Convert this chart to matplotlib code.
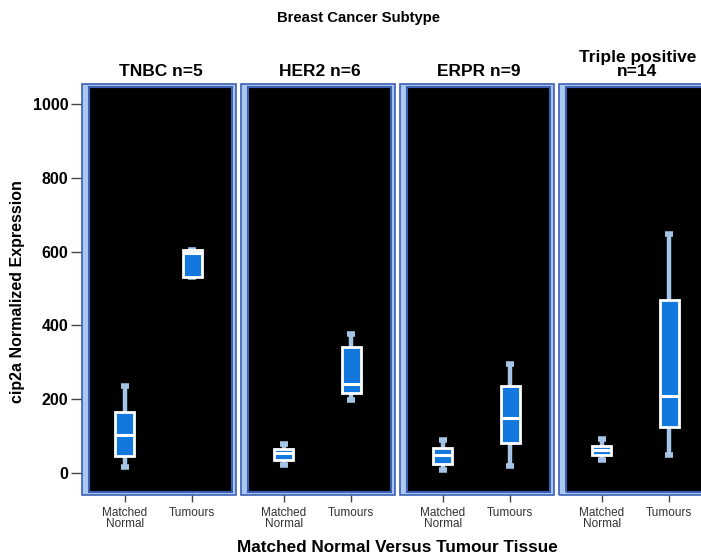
import matplotlib.pyplot as plt
from matplotlib.patches import Rectangle

# five-number summaries per subtype: (matched normal, tumours)
subtypes = ["TNBC n=5", "HER2 n=6", "ERPR n=9", "Triple positive\nn=14"]
groups = ["Matched\nNormal", "Tumours"]
whis_lo = [[15, 532], [22, 198], [8, 18], [35, 48]]
q1 = [[45, 532], [35, 217], [25, 80], [50, 125]]
median = [[103, 595], [55, 240], [50, 150], [62, 210]]
q3 = [[165, 605], [65, 342], [68, 235], [72, 468]]
whis_hi = [[236, 605], [78, 378], [90, 295], [92, 648]]

W, H = 701, 559
BOX_BLUE = "#1278dd"
WHISK = "#a6c4e6"
FRAME_DARK = "#3d5fb3"
FRAME_LIGHT = "#a9c9f0"

plt.rcParams["font.family"] = ["Liberation Sans", "DejaVu Sans"]

fig = plt.figure(figsize=(W / 100, H / 100), dpi=100)
fig.patch.set_facecolor("white")


def px_rect(x0, y0, x1, y1):
    # pixel box (y down) -> figure fraction [left, bottom, width, height]
    return [x0 / W, 1 - y1 / H, (x1 - x0) / W, (y1 - y0) / H]


def add_rect(x0, y0, x1, y1, **kw):
    r = px_rect(x0, y0, x1, y1)
    fig.patches.append(Rectangle((r[0], r[1]), r[2], r[3],
                                 transform=fig.transFigure, **kw))


top, bottom = 87, 492
pw = 143
for i, name in enumerate(subtypes):
    left = 89 + 159 * i
    ax = fig.add_axes(px_rect(left, top, left + pw, bottom))
    ax.set_facecolor("black")

    stats = []
    for j in range(2):
        stats.append(dict(whislo=whis_lo[i][j], q1=q1[i][j], med=median[i][j],
                          q3=q3[i][j], whishi=whis_hi[i][j], fliers=[]))
    ax.bxp(stats, positions=[0, 1], widths=0.28, patch_artist=True,
           showfliers=False, capwidths=0.12,
           boxprops=dict(facecolor=BOX_BLUE, edgecolor="white", linewidth=2, zorder=3),
           medianprops=dict(color="white", linewidth=2.2, zorder=4),
           whiskerprops=dict(color=WHISK, linewidth=3.2, solid_capstyle="butt", zorder=2),
           capprops=dict(color=WHISK, linewidth=4, solid_capstyle="butt", zorder=2))

    ax.set_xlim(-0.53, 1.59)
    ax.set_ylim(-51.5, 1046)
    ax.set_xticks([0, 1])
    ax.set_xticklabels(groups, family=["Liberation Sans Narrow", "Liberation Sans"],
                       fontsize=8.5, color="#333333", linespacing=0.9)
    ax.tick_params(axis="x", direction="out", length=7, width=1, color="#444444", pad=4)
    if i == 0:
        ax.set_yticks([0, 200, 400, 600, 800, 1000])
        ax.tick_params(axis="y", direction="out", length=13, width=1,
                       color="#444444", pad=2, labelsize=11.5)
        for t in ax.get_yticklabels():
            t.set_fontweight("bold")
    else:
        ax.set_yticks([])
    for s in ax.spines.values():
        s.set_color(FRAME_DARK)
        s.set_linewidth(1.5)
    ax.set_title(name, fontsize=12.5, fontweight="bold", pad=8, linespacing=0.9)

    # light blue bevel strips around the plotting area
    strips = [(left - 7, top - 3, left, bottom + 3),
              (left + pw, top - 3, left + pw + 4, bottom + 3),
              (left - 7, top - 3, left + pw + 4, top),
              (left - 7, bottom, left + pw + 4, bottom + 3)]
    for x0, y0, x1, y1 in strips:
        add_rect(x0, y0, x1, y1, facecolor=FRAME_LIGHT, edgecolor="none", zorder=3)
    add_rect(left - 7, top - 3, left + pw + 4, bottom + 3, facecolor="none",
             edgecolor=FRAME_DARK, linewidth=1.2, zorder=4)
    add_rect(left, top, left + pw, bottom, facecolor="none",
             edgecolor=FRAME_DARK, linewidth=1.5, zorder=4)

fig.text(358 / W, 1 - 18 / H, "Breast Cancer Subtype", ha="center", va="center",
         fontsize=10.7, fontweight="bold")
fig.text(397 / W, 1 - 548 / H, "Matched Normal Versus Tumour Tissue", ha="center",
         va="center", fontsize=12.3, fontweight="bold")
fig.text(18 / W, 1 - 292 / H, "cip2a Normalized Expression", ha="center",
         va="center", rotation=90, fontsize=11.5, fontweight="bold")

fig.savefig("out.png", dpi=100)
